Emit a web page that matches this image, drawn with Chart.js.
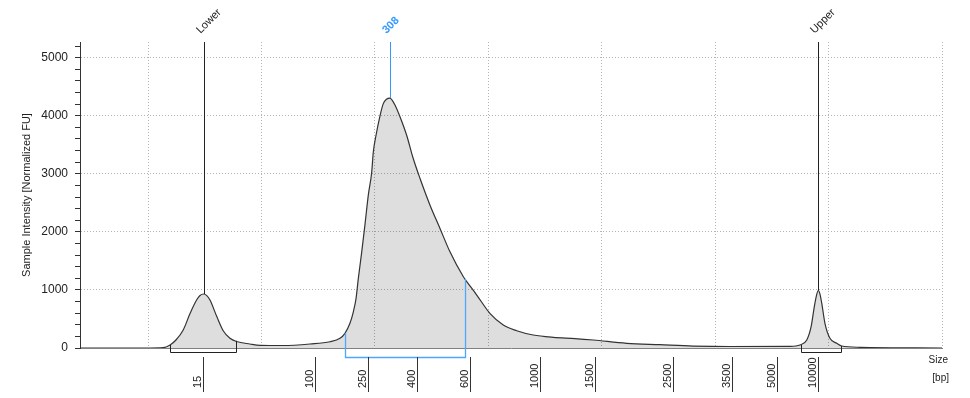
<!DOCTYPE html>
<html><head><meta charset="utf-8">
<script src="https://cdn.jsdelivr.net/npm/chart.js@4"></script>
<style>html,body{margin:0;padding:0;background:#fff;}#wrap{width:970px;height:398px;position:relative;}</style>
</head><body><div id="wrap"><canvas id="c" width="970" height="398"></canvas></div>
<script>
// ---- data (migration time in s, intensity in FU) ----
const ladderSizes = ['15','100','250','400','600','1000','1500','2500','3500','5000','10000'];
const ladderTimes = [27.44,32.35,34.71,36.84,39.19,42.28,44.70,48.16,50.73,52.71,54.55];
const traceTimes = [22.00,25.09,25.66,25.97,26.23,26.55,26.85,27.14,27.29,27.44,27.59,27.73,28.03,28.32,28.61,28.90,29.49,29.94,30.95,32.14,33.02,33.46,33.68,33.90,34.05,34.17,34.27,34.42,34.56,34.71,34.86,34.93,35.05,35.23,35.37,35.51,35.66,35.75,35.89,36.11,36.40,36.69,36.99,37.43,37.87,38.31,38.90,38.97,39.49,40.07,40.66,41.25,41.98,42.87,43.82,44.63,46.10,47.57,49.04,50.65,53.30,53.74,54.04,54.23,54.37,54.47,54.55,54.62,54.70,54.84,55.06,55.36,55.58,56.39,60.00];
const traceValues = [0,0,5,52,138,310,593,826,903,930,903,826,542,292,167,112,69,46,43,69,108,167,253,425,624,855,1199,1656,2116,2632,3032,3376,3664,4008,4209,4283,4305,4274,4180,3978,3664,3263,2919,2460,2059,1656,1226,1187,912,597,396,298,224,184,163,138,81,57,34,26,29,52,138,366,710,912,990,929,769,425,167,81,34,12,0];
const markerLabels = ['Lower','308','Upper'];
const markerKinds = ['marker','peak','marker'];
const markerTimes = [27.45,35.67,54.55];
const markerHeights = [930,4305,990];
const regionKinds = ['marker','peak','marker'];
const regionStarts = [25.97,33.70,53.77];
const regionEnds = [28.89,38.97,55.56];
const regionStartHeights = [52,258,52];
const regionEndHeights = [125,1187,34];
const timeGridStep = 5;
const yMinorStep = 200;
const yMajorStep = 1000;
const yMax = 5270;
const xRange = [22, 60];
const xUnitLabels = ['Size','[bp]'];
const yTitle = 'Sample Intensity [Normalized FU]';

// ---- styles ----
const FONT = "'Liberation Sans', Arial, sans-serif";
const kindStyle = {
  marker: {color:'#222222', bracket:'#222222', bracketWidth:1, drop:4, labelFont:'11px ' + FONT},
  peak:   {color:'#3399ff', bracket:'#4da6ff', bracketWidth:1.3, drop:9, labelFont:'bold 11px ' + FONT}
};

const annot = {
  id: 'annot',
  afterDatasetsDraw(chart) {
    const {ctx, chartArea: a, scales: {x, y}} = chart;
    ctx.save();
    // marker lines and labels
    markerTimes.forEach((t, i) => {
      const st = kindStyle[markerKinds[i]];
      const px = Math.round(x.getPixelForValue(t)) + 0.5;
      ctx.beginPath();
      ctx.moveTo(px, a.top);
      ctx.lineTo(px, y.getPixelForValue(markerHeights[i]));
      ctx.strokeStyle = st.color;
      ctx.lineWidth = 1;
      ctx.stroke();
      ctx.save();
      ctx.translate(px - 4, a.top - 8);
      ctx.rotate(-Math.PI / 4);
      ctx.font = st.labelFont;
      ctx.fillStyle = st.color;
      ctx.textAlign = 'left';
      ctx.textBaseline = 'alphabetic';
      ctx.fillText(markerLabels[i], 0, 0);
      ctx.restore();
    });
    // integration brackets
    regionStarts.forEach((s, i) => {
      const st = kindStyle[regionKinds[i]];
      const x1 = Math.round(x.getPixelForValue(s)) + 0.5;
      const x2 = Math.round(x.getPixelForValue(regionEnds[i])) + 0.5;
      const yb = Math.round(a.bottom + st.drop) + 0.5;
      ctx.beginPath();
      ctx.moveTo(x1, y.getPixelForValue(regionStartHeights[i]));
      ctx.lineTo(x1, yb);
      ctx.lineTo(x2, yb);
      ctx.lineTo(x2, y.getPixelForValue(regionEndHeights[i]));
      ctx.strokeStyle = st.bracket;
      ctx.lineWidth = st.bracketWidth;
      ctx.stroke();
    });
    // size ladder ticks + labels
    ctx.font = '11px ' + FONT;
    ctx.fillStyle = '#222';
    ladderTimes.forEach((t, i) => {
      const px = Math.round(x.getPixelForValue(t)) + 0.5;
      ctx.beginPath();
      ctx.moveTo(px, a.bottom + 9);
      ctx.lineTo(px, a.bottom + 44);
      ctx.strokeStyle = '#333';
      ctx.lineWidth = 1;
      ctx.stroke();
      ctx.save();
      ctx.translate(px - 2.5, a.bottom + 40);
      ctx.rotate(-Math.PI / 2);
      ctx.textAlign = 'left';
      ctx.textBaseline = 'alphabetic';
      ctx.fillText(ladderSizes[i], 0, 0);
      ctx.restore();
    });
    // unit label
    ctx.font = '10px ' + FONT;
    ctx.textAlign = 'right';
    ctx.textBaseline = 'middle';
    ctx.fillText(xUnitLabels[0], a.right + 6, a.bottom + 12);
    ctx.fillText(xUnitLabels[1], a.right + 7, a.bottom + 30);
    ctx.restore();
  }
};

new Chart(document.getElementById('c'), {
  type: 'line',
  data: {
    datasets: [{
      data: traceTimes.map((t, i) => ({x: t, y: traceValues[i]})),
      borderColor: '#333333',
      borderWidth: 1.2,
      backgroundColor: 'rgba(0,0,0,0.13)',
      fill: 'origin',
      pointRadius: 0,
      cubicInterpolationMode: 'monotone'
    }]
  },
  options: {
    responsive: false,
    animation: false,
    devicePixelRatio: 1,
    layout: {padding: {left: 0, right: 28, top: 42, bottom: 50}},
    plugins: {legend: {display: false}, tooltip: {enabled: false}},
    scales: {
      x: {
        type: 'linear',
        min: xRange[0], max: xRange[1],
        ticks: {display: false, stepSize: timeGridStep, includeBounds: false, autoSkip: false},
        grid: {color: '#b4b4b4', drawTicks: false},
        border: {color: '#808080', width: 1, dash: [1, 2]}
      },
      y: {
        min: 0, max: yMax,
        afterFit: s => { s.width = 80; },
        ticks: {
          stepSize: yMinorStep, includeBounds: false, padding: 7, autoSkip: false,
          color: '#222', font: {family: FONT, size: 12},
          callback: v => (v % yMajorStep === 0 ? String(v) : '')
        },
        grid: {
          tickLength: 5,
          tickColor: '#333',
          color: c => (c.tick && c.tick.value % yMajorStep === 0 && c.tick.value !== 0 ? '#b4b4b4' : 'rgba(0,0,0,0)')
        },
        border: {color: '#333', width: 1, dash: [1, 2]},
        title: {display: true, text: yTitle, color: '#222', font: {family: FONT, size: 11}, padding: {top: 20, bottom: 0}}
      }
    }
  },
  plugins: [annot]
});
</script>
</body></html>
